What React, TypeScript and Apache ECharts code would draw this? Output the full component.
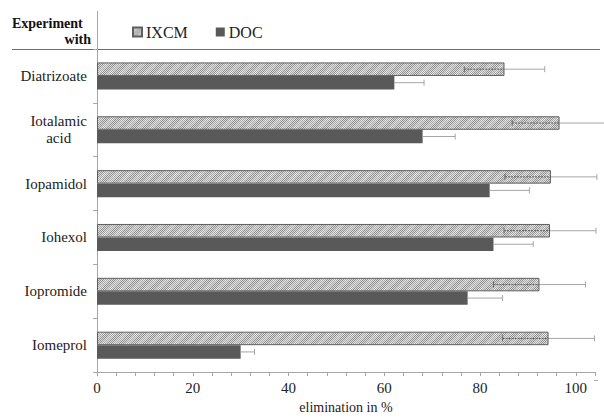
import React, { useEffect, useRef } from 'react';
import * as echarts from 'echarts';

const categories = ['Diatrizoate', 'Iotalamic\nacid', 'Iopamidol', 'Iohexol', 'Iopromide', 'Iomeprol'];
const seriesNames = ['IXCM', 'DOC'];
const ixcmValues = [85.1, 96.6, 94.8, 94.6, 92.4, 94.3];
const ixcmErrors = [8.4, 9.9, 9.6, 9.6, 9.6, 9.6];
const docValues = [62.1, 68.0, 82.0, 82.8, 77.4, 30.0];
const docErrors = [6.2, 6.8, 8.3, 8.3, 7.3, 2.9];
const xTickLabels = [0, 20, 40, 60, 80, 100];
const xAxisTitle = 'elimination in %';
const headerLines = ['Experiment', 'with'];

const FONT = "'Liberation Serif', 'Times New Roman', serif";
const BAR_W = 13.5;

function makePattern(): HTMLCanvasElement {
  const c = document.createElement('canvas');
  c.width = 12;
  c.height = 12;
  const ctx = c.getContext('2d')!;
  for (let x = 0; x < 12; x++) {
    for (let y = 0; y < 12; y++) {
      const dark = (x + y) % 2 === 0;
      const band = (x + y) % 12 < 5;
      let col: string;
      if (dark) col = band ? '#a8a8a8' : '#909090';
      else col = band ? '#e4e4e4' : '#dcdcdc';
      ctx.fillStyle = col;
      ctx.fillRect(x, y, 1, 1);
    }
  }
  return c;
}

export default function App() {
  const ref = useRef<HTMLDivElement>(null);
  useEffect(() => {
    document.body.style.margin = '0';
    const chart = echarts.init(ref.current!, null, { renderer: 'svg' });
    const pattern = { image: makePattern(), repeat: 'repeat' };

    const errRender = (offsetSign: number, inner: boolean) => (params: any, api: any) => {
      const v = api.value(0);
      const c = api.value(1);
      const e = api.value(2);
      const p = api.coord([v, c]);
      const y = p[1] + offsetSign * BAR_W / 2;
      const pl = api.coord([v - e, c]);
      const pr = api.coord([v + e, c]);
      const children: any[] = [
        { type: 'line', shape: { x1: p[0], y1: y, x2: pr[0], y2: y }, style: { stroke: '#a6a6a6', lineWidth: 1 } },
        { type: 'line', shape: { x1: pr[0], y1: y - 3, x2: pr[0], y2: y + 3 }, style: { stroke: '#a6a6a6', lineWidth: 1 } },
      ];
      if (inner) {
        children.push(
          { type: 'line', shape: { x1: pl[0], y1: y, x2: p[0], y2: y }, style: { stroke: '#5a5a5a', lineWidth: 1, lineDash: [2, 1] } },
          { type: 'line', shape: { x1: pl[0], y1: y - 3, x2: pl[0], y2: y + 3 }, style: { stroke: '#6a6a6a', lineWidth: 1 } },
        );
      }
      return { type: 'group', children };
    };

    chart.setOption({
      animation: false,
      textStyle: { fontFamily: FONT },
      grid: { left: 97, right: 9, top: 49, bottom: 39 },
      legend: {
        data: seriesNames,
        left: 127,
        top: 19,
        icon: 'rect',
        itemWidth: 9,
        itemHeight: 9,
        itemGap: 28,
        textStyle: { fontFamily: FONT, fontSize: 16, color: '#222', padding: [0, 0, 0, -1] },
      },
      xAxis: {
        type: 'value',
        min: 0,
        max: 104,
        interval: 4,
        axisLine: { show: true, lineStyle: { color: '#a6a6a6', width: 1 } },
        axisTick: { show: true, length: 4, lineStyle: { color: '#a6a6a6' } },
        splitLine: { show: false },
        axisLabel: {
          fontFamily: FONT,
          fontSize: 15,
          color: '#222',
          margin: 8,
          formatter: (v: number) => (xTickLabels.indexOf(v) >= 0 ? String(v) : ''),
        },
        name: xAxisTitle,
        nameLocation: 'middle',
        nameGap: 21,
        nameTextStyle: { fontFamily: FONT, fontSize: 14, color: '#222' },
      },
      yAxis: {
        type: 'category',
        data: categories,
        inverse: true,
        axisLine: { show: true, lineStyle: { color: '#a6a6a6', width: 1 } },
        axisTick: { show: true, length: 4, lineStyle: { color: '#a6a6a6' } },
        axisLabel: {
          fontFamily: FONT,
          fontSize: 15,
          color: '#222',
          margin: 10,
          lineHeight: 17,
          formatter: (v: string) => v.split('\n').map((s) => '{c|' + s + '}').join('\n'),
          rich: { c: { align: 'center', fontFamily: FONT, fontSize: 15, color: '#222', lineHeight: 17 } },
        },
      },
      series: [
        {
          name: 'IXCM',
          type: 'bar',
          data: ixcmValues,
          barWidth: BAR_W,
          barGap: '0%',
          itemStyle: { color: pattern, borderColor: '#5f5f5f', borderWidth: 1 },
          z: 2,
        },
        {
          name: 'DOC',
          type: 'bar',
          data: docValues,
          barWidth: BAR_W,
          barGap: '0%',
          itemStyle: { color: '#595959' },
          z: 2,
        },
        {
          type: 'custom',
          clip: false,
          z: 3,
          renderItem: errRender(-1, true),
          encode: { x: 0, y: 1 },
          data: ixcmValues.map((v, i) => [v, i, ixcmErrors[i]]),
        },
        {
          type: 'custom',
          clip: false,
          z: 3,
          renderItem: errRender(1, false),
          encode: { x: 0, y: 1 },
          data: docValues.map((v, i) => [v, i, docErrors[i]]),
        },
      ],
      graphic: [
        { type: 'line', shape: { x1: 12, y1: 49.5, x2: 600, y2: 49.5 }, style: { stroke: '#6e6e6e', lineWidth: 1 } },
        { type: 'line', shape: { x1: 97.5, y1: 11, x2: 97.5, y2: 49 }, style: { stroke: '#a6a6a6', lineWidth: 1 } },
        { type: 'line', shape: { x1: 594, y1: 380.5, x2: 598, y2: 380.5 }, style: { stroke: '#a6a6a6', lineWidth: 1 } },
        {
          type: 'text',
          left: 12,
          top: 16,
          style: { text: headerLines[0], fontFamily: FONT, fontWeight: 'bold', fontSize: 14, fill: '#111' },
        },
        {
          type: 'text',
          right: 604 - 91,
          top: 32,
          style: { text: headerLines[1], fontFamily: FONT, fontWeight: 'bold', fontSize: 14, fill: '#111' },
        },
      ],
    });
    return () => chart.dispose();
  }, []);
  return <div ref={ref} style={{ width: 604, height: 419 }} />;
}
